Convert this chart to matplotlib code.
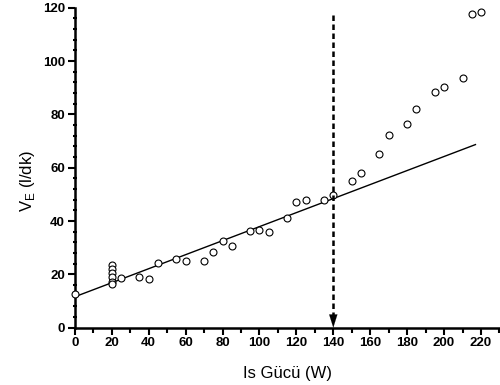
import matplotlib
matplotlib.use("Agg")
import matplotlib.pyplot as plt
import numpy as np
from matplotlib.ticker import MultipleLocator

plt.rcParams['font.family'] = ['Liberation Sans', 'DejaVu Sans']
plt.rcParams['mathtext.fontset'] = 'custom'
plt.rcParams['mathtext.rm'] = 'Liberation Sans'

# Data (Is Gücü W, V_E l/dk)
power = [0, 20, 20, 20, 20, 20, 20, 25, 35, 40, 45, 55, 60, 70, 75, 80, 85, 95,
         100, 105, 115, 120, 125, 135, 140, 150, 155, 165, 170, 180, 185, 195,
         200, 210, 215, 220]
ve = [12.6, 23.5, 22.0, 20.5, 19.0, 17.3, 16.3, 18.7, 19.0, 18.1, 24.3, 25.9,
      25.0, 25.1, 28.3, 32.5, 30.5, 36.4, 36.6, 35.9, 41.3, 47.3, 48.0, 47.9,
      49.8, 55.0, 58.1, 65.1, 72.1, 76.5, 82.2, 88.3, 90.1, 93.8, 117.6, 118.4]

# Regression line
fit_x = [0, 217]
fit_intercept = 11.6
fit_slope = 0.263

threshold_x = 140
threshold_top = 117.3

fig = plt.figure(figsize=(5, 3.85), dpi=100)
ax = fig.add_axes([0.1496, 0.1488, 0.8504, 0.8312])

fx = np.array(fit_x)
ax.plot(fx, fit_intercept + fit_slope * fx, color='black', lw=1.0, zorder=2)
ax.plot(power, ve, linestyle='none', marker='o', ms=5, mfc='white',
        mec='black', mew=0.8, zorder=3, clip_on=False)

ax.plot([threshold_x, threshold_x], [threshold_top, 4.5], color='black',
        lw=1.8, ls=(0, (2.2, 1.4)), zorder=4)
ax.annotate('', xy=(threshold_x, 0), xytext=(threshold_x, 5),
            arrowprops=dict(arrowstyle='-|>,head_length=0.67,head_width=0.21',
                            color='black', lw=0.1,
                            mutation_scale=14, shrinkA=0, shrinkB=0), zorder=5)

ax.set_xlim(0, 230.3)
ax.set_ylim(0, 120)
ax.spines['top'].set_visible(False)
ax.spines['right'].set_visible(False)
ax.spines['left'].set_linewidth(1.8)
ax.spines['bottom'].set_linewidth(1.8)

ax.xaxis.set_major_locator(MultipleLocator(20))
ax.xaxis.set_minor_locator(MultipleLocator(10))
ax.yaxis.set_major_locator(MultipleLocator(20))
ax.yaxis.set_minor_locator(MultipleLocator(4))
ax.tick_params(which='major', direction='out', length=5, width=1.5, pad=2)
ax.tick_params(which='minor', direction='out', length=3.5, width=1.5)
ax.tick_params(axis='y', which='minor', direction='inout', length=3.5)
for lbl in ax.get_xticklabels() + ax.get_yticklabels():
    lbl.set_fontweight('bold')
    lbl.set_fontsize(9.5)

ax.set_xlabel('Is Gücü (W)', fontsize=12, labelpad=12)
ax.set_ylabel(r'V$_{\mathrm{E}}$ (l/dk)', fontsize=12)
ax.yaxis.set_label_coords(-0.088, 0.46)

fig.savefig('out.png', dpi=100)
